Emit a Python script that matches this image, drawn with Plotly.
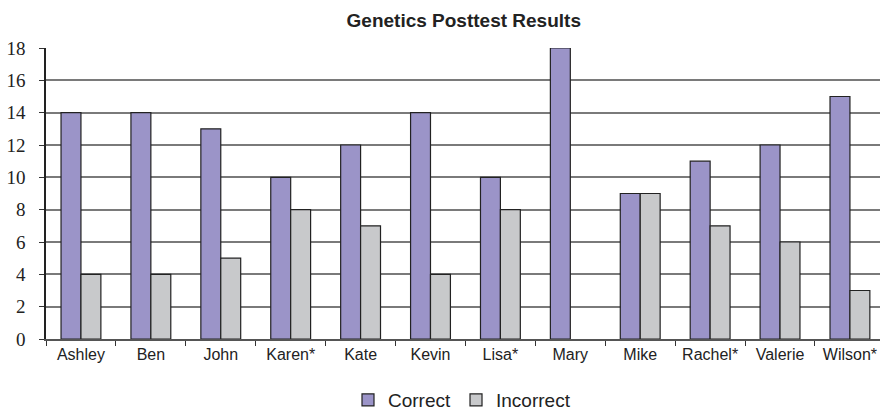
import plotly.graph_objects as go

students = ["Ashley", "Ben", "John", "Karen*", "Kate", "Kevin", "Lisa*", "Mary",
            "Mike", "Rachel*", "Valerie", "Wilson*"]
correct = [14, 14, 13, 10, 12, 14, 10, 18, 9, 11, 12, 15]
incorrect = [4, 4, 5, 8, 7, 4, 8, 0, 9, 7, 6, 3]
y_ticks = [0, 2, 4, 6, 8, 10, 12, 14, 16, 18]

# zero-height bars are not drawn in the reference
incorrect_drawn = [v if v else None for v in incorrect]

fig = go.Figure()
fig.add_trace(go.Bar(x=students, y=correct, name="Correct",
                     marker=dict(color="#9b94c8", line=dict(color="#222222", width=1.2))))
fig.add_trace(go.Bar(x=students, y=incorrect_drawn, name="Incorrect",
                     marker=dict(color="#c8c9cb", line=dict(color="#222222", width=1.2))))

fig.update_layout(
    width=880, height=415,
    margin=dict(l=46, r=0, t=48, b=76),
    paper_bgcolor="white", plot_bgcolor="white",
    barmode="group", bargap=0.43, bargroupgap=0,
    title=dict(text="<b>Genetics Posttest Results</b>", x=0.527, xanchor="center",
               y=0.952, yanchor="middle",
               font=dict(family="Liberation Sans, Arial", size=19, color="#222222")),
    font=dict(family="Liberation Sans, Arial", color="#222222"),
    showlegend=True,
    legend=dict(orientation="h", xref="container", x=0.525, xanchor="center",
                yref="container", y=0.036, yanchor="middle",
                font=dict(family="Liberation Sans, Arial", size=19, color="#222222"),
                itemwidth=30, traceorder="normal"),
)
fig.update_xaxes(
    range=[-0.5, 11.43], tickson="boundaries", ticks="outside", ticklen=5,
    tickcolor="#333333", showline=True, linecolor="#555555", linewidth=1.5,
    tickfont=dict(family="Liberation Sans, Arial", size=16, color="#222222"),
    showgrid=False, automargin=False,
)
fig.update_yaxes(
    range=[0, 18], tickvals=y_ticks, ticks="outside", ticklen=5, tickcolor="#333333",
    showline=True, linecolor="#222222", linewidth=1.5,
    showgrid=True, gridcolor="#7a7a7a", gridwidth=1.5, zeroline=False,
    tickfont=dict(family="Liberation Serif", size=19, color="#222222"),
    ticklabelstandoff=10, automargin=False,
)

fig.write_html("out.html", config={"displayModeBar": False},
               post_script="document.body.style.margin='0';document.body.style.overflow='hidden';")
